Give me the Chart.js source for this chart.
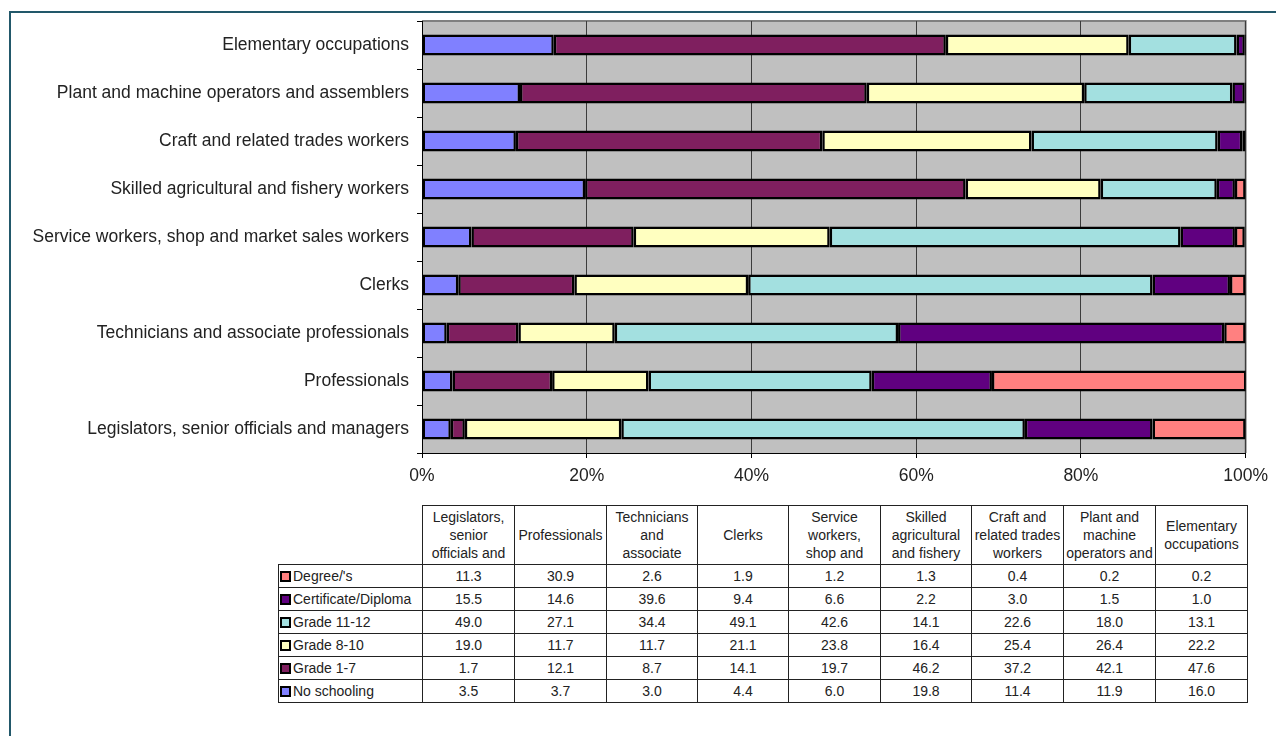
<!DOCTYPE html>
<html>
<head>
<meta charset="utf-8">
<script src="https://cdn.jsdelivr.net/npm/chart.js@4/dist/chart.umd.min.js"></script>
<style>
  body { margin: 0; background: #fff; font-family: "Liberation Sans", Arial, sans-serif; }
  #page { position: relative; width: 1276px; height: 736px; overflow: hidden; }
  #frame {
    position: absolute; left: 9px; top: 11px; right: 0; bottom: 0;
    border-top: 2px solid #22586a; border-left: 2px solid #22586a;
  }
  #chartBox { position: absolute; left: 0; top: 0; width: 1276px; height: 500px; }
  #dataTable {
    position: absolute; left: 278px; top: 505px;
    border-collapse: collapse; table-layout: fixed;
    font-size: 14px; color: #222;
  }
  #dataTable td, #dataTable th {
    border: 1px solid #222; padding: 0 1px; text-align: center;
    font-weight: normal; overflow: hidden;
  }
  #dataTable th { height: 58px; vertical-align: middle; }
  #dataTable th .clip { max-height: 54px; overflow: hidden; line-height: 18px; white-space: pre-line; }
  #dataTable th.blank { border-top: none; border-left: none; }
  #dataTable td { height: 22px; line-height: 22px; }
  #dataTable td.key { text-align: left; white-space: nowrap; padding-left: 1px; }
  .swatch {
    display: inline-block; width: 7px; height: 7px; border: 2px solid #000;
    margin-right: 2px; vertical-align: -1px;
  }
</style>
</head>
<body>
<div id="page">
  <div id="frame"></div>
  <div id="chartBox"><canvas id="eduChart" width="1276" height="500"></canvas></div>
  <table id="dataTable"></table>
</div>
<script>
// occupational groups, in table order (bottom to top on the chart)
const occupations = [
  "Legislators, senior officials and managers",
  "Professionals",
  "Technicians and associate professionals",
  "Clerks",
  "Service workers, shop and market sales workers",
  "Skilled agricultural and fishery workers",
  "Craft and related trades workers",
  "Plant and machine operators and assemblers",
  "Elementary occupations",
];

// same names wrapped for the narrow table header (only 3 lines show)
const headerText = [
  "Legislators,\nsenior\nofficials and\nmanagers",
  "Professionals",
  "Technicians\nand\nassociate\nprofessionals",
  "Clerks",
  "Service\nworkers,\nshop and\nmarket\nsales workers",
  "Skilled\nagricultural\nand fishery\nworkers",
  "Craft and\nrelated trades\nworkers",
  "Plant and\nmachine\noperators and\nassemblers",
  "Elementary\noccupations",
];

// education levels, percentage of each occupation
const degree        = [11.3, 30.9,  2.6,  1.9,  1.2,  1.3,  0.4,  0.2,  0.2];
const certificate   = [15.5, 14.6, 39.6,  9.4,  6.6,  2.2,  3.0,  1.5,  1.0];
const grade11to12   = [49.0, 27.1, 34.4, 49.1, 42.6, 14.1, 22.6, 18.0, 13.1];
const grade8to10    = [19.0, 11.7, 11.7, 21.1, 23.8, 16.4, 25.4, 26.4, 22.2];
const grade1to7     = [ 1.7, 12.1,  8.7, 14.1, 19.7, 46.2, 37.2, 42.1, 47.6];
const noSchooling   = [ 3.5,  3.7,  3.0,  4.4,  6.0, 19.8, 11.4, 11.9, 16.0];

const xTicks = [0, 20, 40, 60, 80, 100];

// rows of the table, top to bottom
const levels = [
  { name: "Degree/'s",           values: degree,      color: "#ff8080" },
  { name: "Certificate/Diploma", values: certificate, color: "#600080" },
  { name: "Grade 11-12",         values: grade11to12, color: "#a3e0e0" },
  { name: "Grade 8-10",          values: grade8to10,  color: "#ffffc0" },
  { name: "Grade 1-7",           values: grade1to7,   color: "#7f1f5f" },
  { name: "No schooling",        values: noSchooling, color: "#8080ff" },
];

// bars stack from "No schooling" on the left to "Degree/'s" on the right
const datasets = levels.slice().reverse().map((lv) => ({
  label: lv.name,
  data: lv.values,
  backgroundColor: lv.color,
  borderColor: "#000",
  borderWidth: 2.5,
  borderSkipped: false,
  categoryPercentage: 1,
  barPercentage: 0.44,
}));

// grey plot background with a thin grey top/right edge
const plotBackground = {
  id: "plotBackground",
  beforeDraw(chart) {
    const { ctx, chartArea: a } = chart;
    ctx.save();
    ctx.fillStyle = "#c0c0c0";
    ctx.fillRect(a.left, a.top, a.right - a.left, a.bottom - a.top);
    ctx.strokeStyle = "#808080";
    ctx.lineWidth = 2;
    ctx.beginPath();
    ctx.moveTo(a.left, a.top);
    ctx.lineTo(a.right, a.top);
    ctx.lineTo(a.right, a.bottom);
    ctx.stroke();
    ctx.restore();
  },
};

const labelFont = { family: "Liberation Sans, Arial, sans-serif", size: 17.5 };

const ctx = document.getElementById("eduChart").getContext("2d");
new Chart(ctx, {
  type: "bar",
  data: { labels: occupations, datasets: datasets },
  plugins: [plotBackground],
  options: {
    indexAxis: "y",
    responsive: false,
    animation: false,
    layout: { padding: { top: 21, right: 29, bottom: 7, left: 0 } },
    plugins: { legend: { display: false }, tooltip: { enabled: false } },
    scales: {
      x: {
        stacked: true,
        min: 0,
        max: 100,
        afterBuildTicks(scale) {
          scale.ticks = xTicks.map((v) => ({ value: v }));
        },
        afterFit(scale) { scale.height = 40; },
        grid: { color: "#3c3c3c", lineWidth: 1, tickLength: 5, tickColor: "#000" },
        border: { color: "#000", width: 1 },
        ticks: {
          padding: 8,
          color: "#222",
          font: labelFont,
          callback: (v) => v + "%",
        },
      },
      y: {
        stacked: true,
        reverse: true,
        afterFit(scale) { scale.width = 422; },
        grid: { drawOnChartArea: false, offset: true, tickLength: 5, color: "#000" },
        border: { color: "#000", width: 1 },
        ticks: {
          padding: 8,
          color: "#222",
          font: labelFont,
        },
      },
    },
  },
});

// data table under the chart
const colWidths = [144, 92, 92, 91, 91, 92, 91, 92, 92, 92];
const rowHeights = [24, 24, 24, 23, 24, 23];
const table = document.getElementById("dataTable");
table.style.width = colWidths.reduce((s, w) => s + w, 0) + "px";
const colgroup = document.createElement("colgroup");
colWidths.forEach((w) => {
  const c = document.createElement("col");
  c.style.width = w + "px";
  colgroup.appendChild(c);
});
table.appendChild(colgroup);

const head = document.createElement("tr");
const blank = document.createElement("th");
blank.className = "blank";
head.appendChild(blank);
headerText.forEach((text) => {
  const th = document.createElement("th");
  const clip = document.createElement("div");
  clip.className = "clip";
  clip.textContent = text;
  th.appendChild(clip);
  head.appendChild(th);
});
table.appendChild(head);

levels.forEach((lv, r) => {
  const tr = document.createElement("tr");
  const key = document.createElement("td");
  key.className = "key";
  key.style.height = (rowHeights[r] - 2) + "px";
  key.innerHTML = '<span class="swatch" style="background:' + lv.color + '"></span>';
  key.appendChild(document.createTextNode(lv.name));
  tr.appendChild(key);
  lv.values.forEach((v) => {
    const td = document.createElement("td");
    td.textContent = v.toFixed(1);
    tr.appendChild(td);
  });
  table.appendChild(tr);
});
</script>
</body>
</html>
